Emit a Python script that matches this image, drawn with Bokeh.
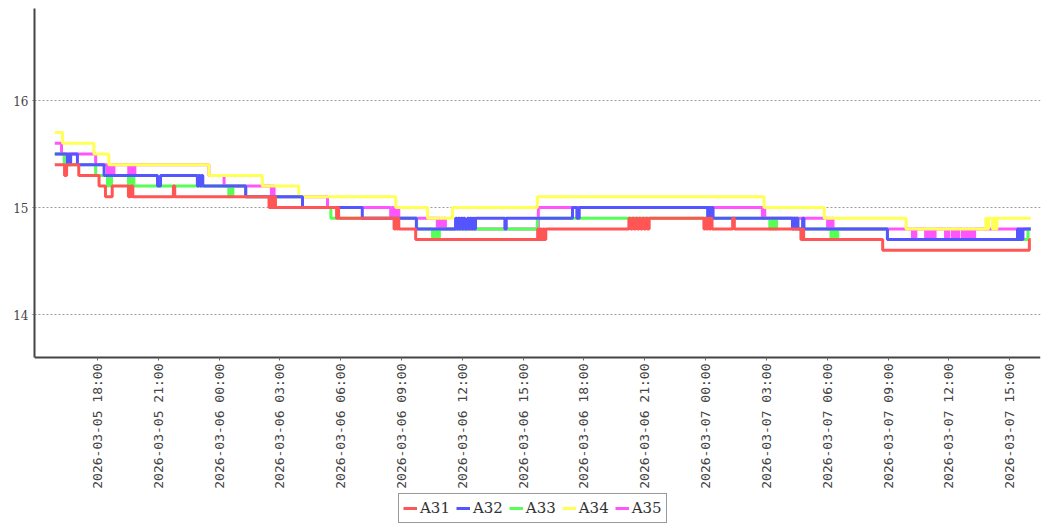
import math
import pandas as pd
from bokeh.plotting import figure
from bokeh.models import (Range1d, DatetimeTickFormatter, FixedTicker,
                          Legend, LegendItem)
from bokeh.embed import file_html
from bokeh.resources import INLINE

# ---------------- data ----------------
a31_time = ["2026-03-05 15:54", "2026-03-05 16:23", "2026-03-05 16:29", "2026-03-05 17:05",
            "2026-03-05 18:05", "2026-03-05 18:24", "2026-03-05 18:44", "2026-03-05 19:32",
            "2026-03-05 19:38", "2026-03-05 19:45", "2026-03-05 21:45", "2026-03-05 21:49",
            "2026-03-06 02:28", "2026-03-06 02:33", "2026-03-06 02:38", "2026-03-06 02:43",
            "2026-03-06 02:47", "2026-03-06 05:48", "2026-03-06 05:51", "2026-03-06 05:54",
            "2026-03-06 08:38", "2026-03-06 08:42", "2026-03-06 08:46", "2026-03-06 08:49",
            "2026-03-06 08:52", "2026-03-06 09:42", "2026-03-06 15:43", "2026-03-06 15:47",
            "2026-03-06 15:51", "2026-03-06 15:55", "2026-03-06 15:59", "2026-03-06 16:03",
            "2026-03-06 16:07", "2026-03-06 20:13", "2026-03-06 20:18", "2026-03-06 20:23",
            "2026-03-06 20:28", "2026-03-06 20:33", "2026-03-06 20:38", "2026-03-06 20:43",
            "2026-03-06 20:48", "2026-03-06 20:53", "2026-03-06 20:58", "2026-03-06 21:03",
            "2026-03-06 21:08", "2026-03-06 21:13", "2026-03-06 23:55", "2026-03-06 23:59",
            "2026-03-07 00:03", "2026-03-07 00:07", "2026-03-07 00:11", "2026-03-07 00:15",
            "2026-03-07 00:19", "2026-03-07 01:20", "2026-03-07 01:25", "2026-03-07 04:42",
            "2026-03-07 04:46", "2026-03-07 04:50", "2026-03-07 08:44", "2026-03-07 15:58",
            "2026-03-07 16:02"]
a31_val = [15.4, 15.3, 15.4, 15.3,
           15.2, 15.1, 15.2, 15.1,
           15.2, 15.1, 15.2, 15.1,
           15.0, 15.1, 15.0, 15.1,
           15.0, 14.9, 15.0, 14.9,
           14.8, 14.9, 14.8, 14.9,
           14.8, 14.7, 14.8, 14.7,
           14.8, 14.7, 14.8, 14.7,
           14.8, 14.9, 14.8, 14.9,
           14.8, 14.9, 14.8, 14.9,
           14.8, 14.9, 14.8, 14.9,
           14.8, 14.9, 14.8, 14.9,
           14.8, 14.9, 14.8, 14.9,
           14.8, 14.9, 14.8, 14.7,
           14.8, 14.7, 14.6, 14.7,
           14.7]

a32_time = ["2026-03-05 15:54", "2026-03-05 16:31", "2026-03-05 16:35", "2026-03-05 16:38",
            "2026-03-05 16:41", "2026-03-05 17:01", "2026-03-05 18:20", "2026-03-05 20:58",
            "2026-03-05 21:07", "2026-03-05 22:56", "2026-03-05 23:00", "2026-03-05 23:04",
            "2026-03-05 23:08", "2026-03-05 23:12", "2026-03-06 01:19", "2026-03-06 04:07",
            "2026-03-06 07:04", "2026-03-06 09:44", "2026-03-06 11:40", "2026-03-06 11:44",
            "2026-03-06 11:48", "2026-03-06 11:52", "2026-03-06 11:56", "2026-03-06 12:00",
            "2026-03-06 12:04", "2026-03-06 12:08", "2026-03-06 12:15", "2026-03-06 12:19",
            "2026-03-06 12:23", "2026-03-06 12:27", "2026-03-06 12:31", "2026-03-06 12:35",
            "2026-03-06 12:39", "2026-03-06 14:06", "2026-03-06 14:10", "2026-03-06 17:26",
            "2026-03-06 17:39", "2026-03-06 17:46", "2026-03-07 00:06", "2026-03-07 00:10",
            "2026-03-07 00:14", "2026-03-07 00:18", "2026-03-07 00:22", "2026-03-07 04:17",
            "2026-03-07 04:21", "2026-03-07 04:25", "2026-03-07 04:29", "2026-03-07 04:33",
            "2026-03-07 04:47", "2026-03-07 04:51", "2026-03-07 08:58", "2026-03-07 15:23",
            "2026-03-07 15:27", "2026-03-07 15:31", "2026-03-07 15:35", "2026-03-07 15:39",
            "2026-03-07 16:02"]
a32_val = [15.5, 15.4, 15.5, 15.4,
           15.5, 15.4, 15.3, 15.2,
           15.3, 15.2, 15.3, 15.2,
           15.3, 15.2, 15.1, 15.0,
           14.9, 14.8, 14.9, 14.8,
           14.9, 14.8, 14.9, 14.8,
           14.9, 14.8, 14.9, 14.8,
           14.9, 14.8, 14.9, 14.8,
           14.9, 14.8, 14.9, 15.0,
           14.9, 15.0, 14.9, 15.0,
           14.9, 15.0, 14.9, 14.8,
           14.9, 14.8, 14.9, 14.8,
           14.9, 14.8, 14.7, 14.8,
           14.7, 14.8, 14.7, 14.8,
           14.8]

a33_time = ["2026-03-05 15:54", "2026-03-05 16:22", "2026-03-05 17:55", "2026-03-05 18:30",
            "2026-03-05 18:34", "2026-03-05 18:38", "2026-03-05 18:42", "2026-03-05 19:32",
            "2026-03-05 19:36", "2026-03-05 19:40", "2026-03-05 19:44", "2026-03-05 19:48",
            "2026-03-06 00:29", "2026-03-06 00:33", "2026-03-06 00:37", "2026-03-06 00:41",
            "2026-03-06 01:19", "2026-03-06 04:07", "2026-03-06 05:31", "2026-03-06 09:45",
            "2026-03-06 10:32", "2026-03-06 10:36", "2026-03-06 10:40", "2026-03-06 10:44",
            "2026-03-06 10:48", "2026-03-06 10:52", "2026-03-06 15:42", "2026-03-07 03:10",
            "2026-03-07 03:14", "2026-03-07 03:18", "2026-03-07 03:22", "2026-03-07 03:26",
            "2026-03-07 03:30", "2026-03-07 04:33", "2026-03-07 06:11", "2026-03-07 06:15",
            "2026-03-07 06:19", "2026-03-07 06:23", "2026-03-07 06:27", "2026-03-07 06:31",
            "2026-03-07 08:58", "2026-03-07 15:54", "2026-03-07 16:02"]
a33_val = [15.5, 15.4, 15.3, 15.2,
           15.3, 15.2, 15.3, 15.2,
           15.3, 15.2, 15.3, 15.2,
           15.1, 15.2, 15.1, 15.2,
           15.1, 15.0, 14.9, 14.8,
           14.7, 14.8, 14.7, 14.8,
           14.7, 14.8, 14.9, 14.8,
           14.9, 14.8, 14.9, 14.8,
           14.9, 14.8, 14.7, 14.8,
           14.7, 14.8, 14.7, 14.8,
           14.7, 14.8, 14.8]

a34_time = ["2026-03-05 15:54", "2026-03-05 16:17", "2026-03-05 17:50", "2026-03-05 18:34",
            "2026-03-05 23:30", "2026-03-06 02:08", "2026-03-06 03:56", "2026-03-06 08:43",
            "2026-03-06 10:17", "2026-03-06 11:31", "2026-03-06 15:42", "2026-03-07 02:53",
            "2026-03-07 05:51", "2026-03-07 09:53", "2026-03-07 13:49", "2026-03-07 13:53",
            "2026-03-07 13:57", "2026-03-07 14:09", "2026-03-07 14:13", "2026-03-07 14:18",
            "2026-03-07 14:22", "2026-03-07 16:02"]
a34_val = [15.7, 15.6, 15.5, 15.4,
           15.3, 15.2, 15.1, 15.0,
           14.9, 15.0, 15.1, 15.0,
           14.9, 14.8, 14.9, 14.8,
           14.9, 14.8, 14.9, 14.8,
           14.9, 14.9]

a35_time = ["2026-03-05 15:54", "2026-03-05 16:14", "2026-03-05 17:55", "2026-03-05 18:30",
            "2026-03-05 18:34", "2026-03-05 18:38", "2026-03-05 18:42", "2026-03-05 18:46",
            "2026-03-05 18:49", "2026-03-05 19:33", "2026-03-05 19:37", "2026-03-05 19:41",
            "2026-03-05 19:45", "2026-03-05 19:48", "2026-03-05 19:51", "2026-03-05 23:30",
            "2026-03-06 00:15", "2026-03-06 02:35", "2026-03-06 02:39", "2026-03-06 02:43",
            "2026-03-06 05:21", "2026-03-06 08:28", "2026-03-06 08:32", "2026-03-06 08:36",
            "2026-03-06 08:40", "2026-03-06 08:44", "2026-03-06 08:48", "2026-03-06 08:52",
            "2026-03-06 10:46", "2026-03-06 10:50", "2026-03-06 10:54", "2026-03-06 10:58",
            "2026-03-06 11:02", "2026-03-06 11:06", "2026-03-06 11:10", "2026-03-06 15:45",
            "2026-03-07 02:48", "2026-03-07 02:52", "2026-03-07 02:55", "2026-03-07 06:01",
            "2026-03-07 06:05", "2026-03-07 06:09", "2026-03-07 06:13", "2026-03-07 06:17",
            "2026-03-07 10:12", "2026-03-07 10:16", "2026-03-07 10:19", "2026-03-07 10:22",
            "2026-03-07 10:51", "2026-03-07 10:55", "2026-03-07 10:59", "2026-03-07 11:03",
            "2026-03-07 11:07", "2026-03-07 11:11", "2026-03-07 11:15", "2026-03-07 11:19",
            "2026-03-07 11:50", "2026-03-07 11:54", "2026-03-07 11:57", "2026-03-07 11:59",
            "2026-03-07 12:10", "2026-03-07 12:14", "2026-03-07 12:18", "2026-03-07 12:22",
            "2026-03-07 12:26", "2026-03-07 12:29", "2026-03-07 12:40", "2026-03-07 12:44",
            "2026-03-07 12:48", "2026-03-07 12:52", "2026-03-07 12:56", "2026-03-07 13:00",
            "2026-03-07 13:04", "2026-03-07 13:08", "2026-03-07 13:12", "2026-03-07 13:16",
            "2026-03-07 16:02"]
a35_val = [15.6, 15.5, 15.4, 15.3,
           15.4, 15.3, 15.4, 15.3,
           15.4, 15.3, 15.4, 15.3,
           15.4, 15.3, 15.4, 15.3,
           15.2, 15.1, 15.2, 15.1,
           15.0, 14.9, 15.0, 14.9,
           15.0, 14.9, 15.0, 14.9,
           14.8, 14.9, 14.8, 14.9,
           14.8, 14.9, 14.8, 15.0,
           14.9, 15.0, 14.9, 14.8,
           14.9, 14.8, 14.9, 14.8,
           14.7, 14.8, 14.7, 14.8,
           14.7, 14.8, 14.7, 14.8,
           14.7, 14.8, 14.7, 14.8,
           14.7, 14.8, 14.7, 14.8,
           14.7, 14.8, 14.7, 14.8,
           14.7, 14.8, 14.7, 14.8,
           14.7, 14.8, 14.7, 14.8,
           14.7, 14.8, 14.7, 14.8,
           14.8]

series_names = ["A31", "A32", "A33", "A34", "A35"]
series_colors = ["#FF5555", "#5555FF", "#55FF55", "#FFFF55", "#FF55FF"]
y_ticks = [14, 15, 16]
tick_start = "2026-03-05 18:00"
tick_end = "2026-03-07 15:00"
x_start = "2026-03-05 14:54"
x_end = "2026-03-07 16:31"
y_axis_min = 13.598
y_axis_max = 16.86

# ---------------- figure ----------------
# frame spans the whole picture height; the value axis occupies its upper part
frame_h = 517
px_per_unit = 107.0
p = figure(x_axis_type="datetime", output_backend="svg", toolbar_location=None,
           frame_width=1006, frame_height=frame_h,
           min_border_left=34, min_border_right=2, min_border_top=8, min_border_bottom=0,
           x_range=Range1d(pd.Timestamp(x_start), pd.Timestamp(x_end)),
           y_range=Range1d(y_axis_max - frame_h / px_per_unit, y_axis_max))
p.outline_line_color = None
p.background_fill_color = "white"
p.border_fill_color = "white"

p.xgrid.visible = False
p.ygrid.grid_line_color = "#9a9a9a"
p.ygrid.grid_line_dash = "2 2"
p.ygrid.grid_line_width = 1

data = [(a31_time, a31_val), (a32_time, a32_val), (a33_time, a33_val),
        (a34_time, a34_val), (a35_time, a35_val)]
renderers = [None] * 5
# first series is drawn on top: draw in reverse order
for i in reversed(range(5)):
    t, v = data[i]
    renderers[i] = p.step(x=pd.to_datetime(t), y=v, mode="after",
                          line_width=3, line_color=series_colors[i])

# y axis
yax = p.yaxis[0]
yax.ticker = FixedTicker(ticks=y_ticks)
yax.bounds = (y_axis_min, y_axis_max)
yax.major_label_text_font = "DejaVu Serif"
yax.major_label_text_font_size = "12px"
yax.major_label_text_color = "#444444"
yax.axis_line_color = "#444444"
yax.axis_line_width = 2
yax.major_tick_out = 2
yax.major_tick_in = 0
yax.minor_tick_out = 0
yax.minor_tick_in = 0
yax.major_tick_line_color = "#666666"
yax.major_label_standoff = 4

# x axis, placed at the bottom of the value range
xax = p.xaxis[0]
xax.fixed_location = y_axis_min
ticks = [int(ts.value // 10**6) for ts in pd.date_range(tick_start, tick_end, freq="3h")]
xax.ticker = FixedTicker(ticks=ticks)
fmt = "%Y-%m-%d %H:%M"
xax.formatter = DatetimeTickFormatter(minutes=fmt, hourmin=fmt, hours=fmt, days=fmt,
                                      months=fmt, years=fmt)
xax.major_label_orientation = math.pi / 2
xax.major_label_text_font = "DejaVu Sans Mono"
xax.major_label_text_font_size = "13px"
xax.major_label_text_color = "#444444"
xax.axis_line_color = "#444444"
xax.axis_line_width = 2
xax.major_tick_out = 3
xax.major_tick_in = 0
xax.minor_tick_out = 0
xax.minor_tick_in = 0
xax.major_tick_line_color = "#666666"
xax.major_label_standoff = 3

legend = Legend(items=[LegendItem(label=series_names[i], renderers=[renderers[i]]) for i in range(5)],
                orientation="horizontal", location=(364, 2))
legend.label_text_font = "DejaVu Serif"
legend.label_text_font_size = "15px"
legend.label_text_color = "#333333"
legend.glyph_width = 14
legend.glyph_height = 20
legend.label_height = 20
legend.label_standoff = 3
legend.spacing = 6
legend.padding = 4
legend.margin = 0
legend.border_line_color = "#333333"
legend.border_line_width = 1
legend.background_fill_color = "white"
p.add_layout(legend, "center")

open("out.html", "w").write(file_html(p, INLINE))
